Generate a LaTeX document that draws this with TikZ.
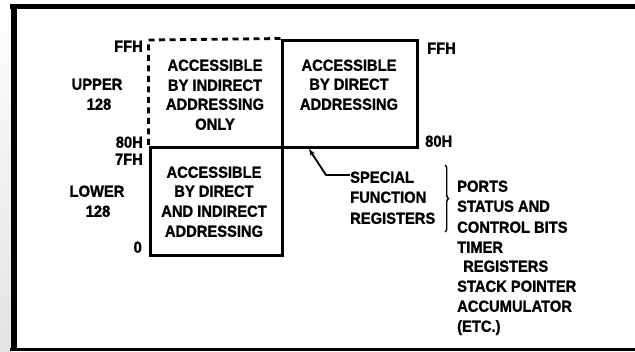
\documentclass[tikz,border=0pt]{standalone}
\usepackage{fontspec}
\setmainfont{Liberation Sans}
\newfontfamily\lettering{Liberation Sans Bold}[FakeStretch=0.92, FakeBold=1.2]
\usetikzlibrary{decorations.pathreplacing,arrows.meta}
\begin{document}
\begin{tikzpicture}[x=1pt,y=-1pt,
  lbl/.style={font=\lettering\fontsize{16}{20}\selectfont, inner sep=0pt, text height=11.5pt, text depth=0pt},
  box/.style={draw, line width=3pt, inner sep=0pt},
  dashbox/.style={line width=2.8pt, dash pattern=on 6pt off 4.5pt},
  frameline/.style={black},
  conn/.style={line width=1.8pt, {Stealth[length=7pt,width=5pt]}-},
  brc/.style={line width=1.4pt, decorate, decoration={brace, amplitude=3.5pt}}
]
\useasboundingbox (0,0) rectangle (635,351);
\shade[top color=white, bottom color=gray!22] (0,0) rectangle (11,351);
% frame
\draw[frameline, line width=5pt] (10,6.5) -- (635,6.5);
\draw[frameline, line width=6pt] (13.5,4) -- (13.5,351);
\draw[frameline, line width=3pt] (10,349.5) -- (635,349.5);

% boxes
\node[box, minimum width=132pt, minimum height=108pt] (low) at (216,201) {};
\node[box, minimum width=135pt, minimum height=107pt] (ur) at (349.5,93.5) {};
\draw[dashbox] (ur.north west) -- (148.5,40) -- (148.5,147);

% text in upper-left dashed box
\node[lbl] (ul1) at (215,65) {ACCESSIBLE};
\node[lbl] (ul2) at (215,85) {BY INDIRECT};
\node[lbl] (ul3) at (215,104) {ADDRESSING};
\node[lbl] (ul4) at (215,124) {ONLY};
% upper-right box
\node[lbl] (ur1) at (349,65) {ACCESSIBLE};
\node[lbl] (ur2) at (349,84) {BY DIRECT};
\node[lbl] (ur3) at (349,104) {ADDRESSING};
% lower box
\node[lbl] (lo1) at (214,172) {ACCESSIBLE};
\node[lbl] (lo2) at (214,191) {BY DIRECT};
\node[lbl] (lo3) at (214,211) {AND INDIRECT};
\node[lbl] (lo4) at (214,231) {ADDRESSING};

% left labels
\node[lbl, anchor=east] (ffhl) at (143,46) {FFH};
\node[lbl] (up1) at (97,84) {UPPER};
\node[lbl] (up2) at (99,104) {128};
\node[lbl, anchor=east] (h80l) at (143,142) {80H};
\node[lbl, anchor=east] (h7f) at (143,159) {7FH};
\node[lbl] (lw1) at (97,191) {LOWER};
\node[lbl] (lw2) at (98,211) {128};
\node[lbl, anchor=east] (zero) at (142,247) {0};

% right labels
\node[lbl, anchor=west] (ffhr) at (427,48) {FFH};
\node[lbl, anchor=west] (h80r) at (425,141) {80H};

% special function registers
\node[lbl, anchor=west] (sf1) at (350,177) {SPECIAL};
\node[lbl, anchor=west] (sf2) at (350,197) {FUNCTION};
\node[lbl, anchor=west] (sf3) at (350,218) {REGISTERS};

\coordinate (tipc) at (309,149);
\coordinate (bend) at (326,175);
\draw[conn] (tipc) -- (bend) -- (sf1.west |- bend);

% brace
\coordinate (bt) at (445,165);
\coordinate (bb) at (445,232);
\draw[brc] (bt) -- (bb);

% list
\node[lbl, anchor=west] (li1) at (457,186) {PORTS};
\node[lbl, anchor=west] (li2) at (457,206) {STATUS AND};
\node[lbl, anchor=west] (li3) at (457,227) {CONTROL BITS};
\node[lbl, anchor=west] (li4) at (457,247) {TIMER};
\node[lbl, anchor=west] (li5) at (463,266) {REGISTERS};
\node[lbl, anchor=west] (li6) at (457,286) {STACK POINTER};
\node[lbl, anchor=west] (li7) at (457,306) {ACCUMULATOR};
\node[lbl, anchor=west] (li8) at (457,326) {(ETC.)};
\end{tikzpicture}
\end{document}
